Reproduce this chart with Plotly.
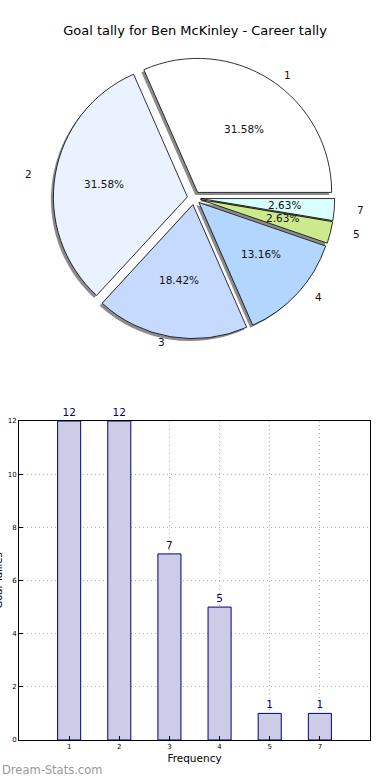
import math
import plotly.graph_objects as go

# ---- data ----
categories = ["1", "2", "3", "4", "5", "7"]
tallies = [12, 12, 7, 5, 1, 1]
pie_colors = ["#FFFFFF", "#EAF1FF", "#C6D9FF", "#B3D6FF", "#CCE98C", "#DAFFFF"]
y_ticks = [0, 2, 4, 6, 8, 10, 12]
title_text = "Goal tally for Ben McKinley - Career tally"

# ---- layout constants (pixels) ----
FIG_W, FIG_H = 390, 780
ML, MR, MT, MB = 19, 20, 0, 40
PW, PH = FIG_W - ML - MR, FIG_H - MT - MB
BAR_TOP = 421
PIE_CX, PIE_CY = 194, 198
PIE_R = 134
TEXT_RX, TEXT_RY = 141, 127   # the original pie was slightly elliptical
PULL = 0.05
HALF = PIE_R * (1 + PULL)


def px_to_paper(px, py):
    return (px - ML) / PW, (PH + MT - py) / PH


def pie_domain(dx=0.0, dy=0.0):
    x0, y0 = px_to_paper(PIE_CX - HALF + dx, PIE_CY + HALF + dy)
    x1, y1 = px_to_paper(PIE_CX + HALF + dx, PIE_CY - HALF + dy)
    return dict(x=[x0, x1], y=[y0, y1])


total = sum(tallies)
# plotly (counterclockwise): rotation marks the end of the first slice;
# first slice should start at 3 o'clock and run counterclockwise
ROTATION = 90 - 360 * tallies[0] / total

fig = go.Figure()

# shadow pie
fig.add_trace(go.Pie(
    values=tallies, labels=categories, sort=False, direction="counterclockwise",
    rotation=ROTATION, pull=[PULL] * len(tallies), domain=pie_domain(-2.5, 2.5),
    marker=dict(colors=["rgba(0,0,0,0.45)"] * len(tallies), line=dict(width=0)),
    textinfo="none", hoverinfo="skip", showlegend=False,
))
# main pie
fig.add_trace(go.Pie(
    values=tallies, labels=categories, sort=False, direction="counterclockwise",
    rotation=ROTATION, pull=[PULL] * len(tallies), domain=pie_domain(),
    marker=dict(colors=pie_colors, line=dict(color="black", width=0.8)),
    textinfo="none", showlegend=False,
))

# pie text (computed from the values)
annotations = []
cum = 0.0
for lab, v in zip(categories, tallies):
    frac = v / total
    mid = 2 * math.pi * (cum + frac / 2)
    cum += frac
    c, s = math.cos(mid), math.sin(mid)
    ccx = PIE_CX + PULL * PIE_R * c
    ccy = PIE_CY - PULL * PIE_R * s
    tx, ty = px_to_paper(ccx + 0.6 * TEXT_RX * c, ccy - 0.6 * TEXT_RY * s)
    annotations.append(dict(x=tx, y=ty, xref="paper", yref="paper", text=f"{frac*100:.2f}%",
                            showarrow=False, xanchor="center", yanchor="middle",
                            font=dict(family="DejaVu Sans", size=10.5, color="#111")))
    lx, ly = px_to_paper(ccx + 1.1 * TEXT_RX * c, ccy - 1.1 * TEXT_RY * s)
    annotations.append(dict(x=lx, y=ly, xref="paper", yref="paper", text=lab,
                            showarrow=False, xanchor="left" if c > 0 else "right",
                            yanchor="middle",
                            font=dict(family="DejaVu Sans", size=10.5, color="#111")))

# bar chart
fig.add_trace(go.Bar(
    x=list(range(len(categories))), y=tallies, width=0.46,
    marker=dict(color="#CCCCE6", line=dict(color="#000080", width=1)),
    text=[str(v) for v in tallies], textposition="outside", cliponaxis=False,
    textfont=dict(family="DejaVu Sans", size=10.5, color="#000080"),
    hoverinfo="skip", showlegend=False,
))

bar_top_frac = (PH + MT - BAR_TOP) / PH

# y axis title (partially clipped at the left edge, as in the original)
ytx, yty = px_to_paper(-2, (BAR_TOP + PH + MT) / 2)
annotations.append(dict(x=ytx, y=yty, xref="paper", yref="paper", text="Goal Tallies",
                        textangle=-90, showarrow=False, xanchor="center", yanchor="middle",
                        font=dict(family="DejaVu Sans", size=10, color="black")))
# watermark
wx, wy = px_to_paper(0, 770)
annotations.append(dict(x=wx, y=wy, xref="paper", yref="paper", text="Dream-Stats.com",
                        showarrow=False, xanchor="left", yanchor="middle",
                        font=dict(family="DejaVu Sans", size=11.5, color="#999999")))

grid_common = dict(showgrid=True, gridcolor="#b0b0b0", griddash="1px,3px", gridwidth=1,
                   showline=True, linecolor="black", linewidth=1, mirror=True,
                   ticks="inside", ticklen=4, tickcolor="black", zeroline=False,
                   tickfont=dict(family="DejaVu Sans", size=7, color="black"),
                   fixedrange=True)

fig.update_layout(
    width=FIG_W, height=FIG_H,
    margin=dict(l=ML, r=MR, t=MT, b=MB, autoexpand=False),
    paper_bgcolor="white", plot_bgcolor="white",
    title=dict(text=title_text, x=0.5, xanchor="center", y=1 - 30 / FIG_H, yanchor="middle",
               font=dict(family="DejaVu Sans", size=13, color="black")),
    annotations=annotations,
    xaxis=dict(range=[-1, 6], tickmode="array", tickvals=list(range(len(categories))),
               ticktext=categories,
               title=dict(text="Frequency", standoff=4,
                          font=dict(family="DejaVu Sans", size=10.5, color="black")),
               **grid_common),
    yaxis=dict(domain=[0, bar_top_frac], range=[0, 12], tickmode="array", tickvals=y_ticks,
               **grid_common),
)

fig.write_html("out.html", config={"displayModeBar": False},
               post_script="document.body.style.margin='0';document.body.style.overflow='hidden';")
